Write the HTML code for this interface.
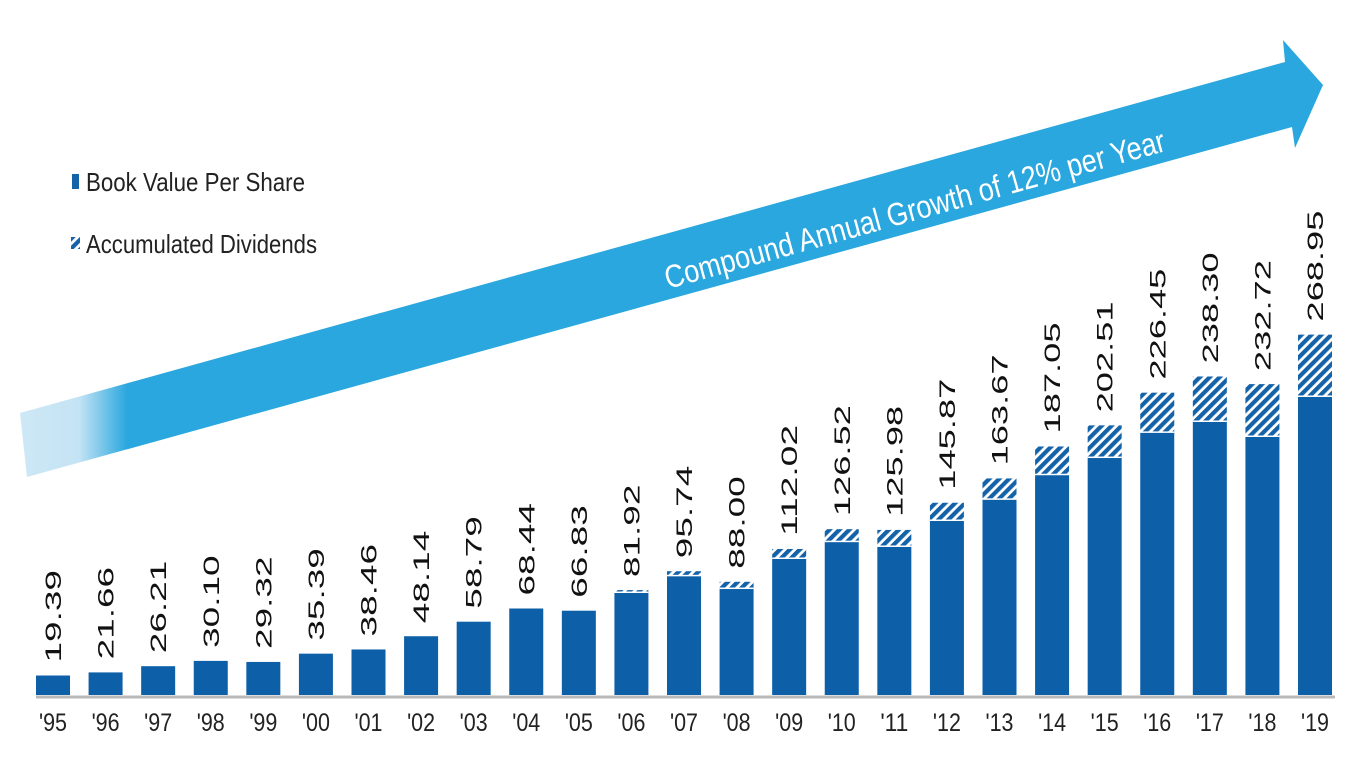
<!DOCTYPE html>
<html><head><meta charset="utf-8"><style>
html,body{margin:0;padding:0;background:#fff;width:1366px;height:768px;overflow:hidden}
svg{display:block}
text{font-family:"Liberation Sans Narrow","Liberation Sans",Arial,sans-serif}
</style></head><body>
<svg id="chart" width="1366" height="768" viewBox="0 0 1366 768" xmlns="http://www.w3.org/2000/svg">
<defs>
<pattern id="hatch" patternUnits="userSpaceOnUse" width="7" height="7" patternTransform="rotate(45)">
<rect width="7" height="7" fill="#ffffff"/>
<rect width="4.2" height="7" fill="#1462a8"/>
</pattern>
<linearGradient id="arrowGrad" gradientUnits="userSpaceOnUse" x1="20" y1="0" x2="1330" y2="0">
<stop offset="0" stop-color="#cde8f6"/>
<stop offset="0.045" stop-color="#c4e3f4"/>
<stop offset="0.082" stop-color="#29a7de"/>
<stop offset="1" stop-color="#29a7de"/>
</linearGradient>
</defs>
<g>
<polygon fill="url(#arrowGrad)" points="20,413 1285,62 1283,40 1323,85 1295,148 1292,127 27,477"/>
<text transform="translate(668,289) rotate(-15.5)" font-size="32" fill="#ffffff" textLength="518" lengthAdjust="spacingAndGlyphs">Compound Annual Growth of 12% per Year</text>
</g>
<g>
<rect x="72" y="174" width="7" height="15" fill="#1462a8"/>
<text x="86" y="191" font-size="26" fill="#222" textLength="219" lengthAdjust="spacingAndGlyphs">Book Value Per Share</text>
<rect x="71" y="237" width="9" height="12" fill="url(#hatch)"/>
<text x="86" y="253" font-size="26" fill="#222" textLength="231" lengthAdjust="spacingAndGlyphs">Accumulated Dividends</text>
</g>
<line x1="36" y1="697" x2="1335" y2="697" stroke="#b8b8b8" stroke-width="3"/>
<g id="bars"></g>
<g id="labels"></g>
<g id="ticks"></g>
</svg>
<script>
const years = ["'95","'96","'97","'98","'99","'00","'01","'02","'03","'04","'05","'06","'07","'08","'09","'10","'11","'12","'13","'14","'15","'16","'17","'18","'19"];
const totals = [19.39,21.66,26.21,30.10,29.32,35.39,38.46,48.14,58.79,68.44,66.83,81.92,95.74,88.00,112.02,126.52,125.98,145.87,163.67,187.05,202.51,226.45,238.30,232.72,268.95];
const bookValues = [19.39,21.66,26.21,30.10,29.32,35.39,38.46,48.14,58.79,68.44,66.83,79.8,92,82.7,104.7,117,113.5,132.5,148,166,178.6,197,205,194,223.3];
const totalLabels = ["19.39","21.66","26.21","30.10","29.32","35.39","38.46","48.14","58.79","68.44","66.83","81.92","95.74","88.00","112.02","126.52","125.98","145.87","163.67","187.05","202.51","226.45","238.30","232.72","268.95"];

const NS="http://www.w3.org/2000/svg";
const baseY=695, zeroY=702, pxPer=1.366, x0=53, step=(1315-53)/24, barW=34;
const xScale=i=>x0+i*step;
const yScale=v=>zeroY-v*pxPer;
const gB=document.getElementById('bars'), gL=document.getElementById('labels'), gT=document.getElementById('ticks');
function mk(tag,attrs){const e=document.createElementNS(NS,tag);for(const k in attrs)e.setAttribute(k,attrs[k]);return e;}
years.forEach((y,i)=>{
  const cx=xScale(i);
  const tTop=yScale(totals[i]), bTop=yScale(bookValues[i]);
  if(totals[i]-bookValues[i]>0.01){
    const h=mk('rect',{x:cx-barW/2,y:tTop,width:barW,height:bTop-tTop,fill:'url(#hatch)'});
    
    
    gB.appendChild(h);
    const sep=mk('rect',{x:cx-barW/2,y:bTop-1.5,width:barW,height:2,fill:'#ffffff'});
    
    
    gB.appendChild(sep);
  }
  const b=mk('rect',{x:cx-barW/2,y:bTop,width:barW,height:baseY-bTop,fill:'#0d5fa8'});
  
  
  gB.appendChild(b);
  const lbl=totalLabels[i];
  const t=mk('text',{transform:`translate(${cx+8},${tTop-13}) rotate(-90)`,'font-size':'22',fill:'#111','font-family':'"Liberation Sans",Arial,sans-serif',textLength:String(lbl.length*18.5),lengthAdjust:'spacingAndGlyphs'});
  t.textContent=lbl;
  
  
  gL.appendChild(t);
  const k=mk('text',{x:cx,y:731,'font-size':'25','text-anchor':'middle',fill:'#222',textLength:'28',lengthAdjust:'spacingAndGlyphs'});
  k.textContent=y;
  
  
  gT.appendChild(k);
});
</script>
</body></html>
